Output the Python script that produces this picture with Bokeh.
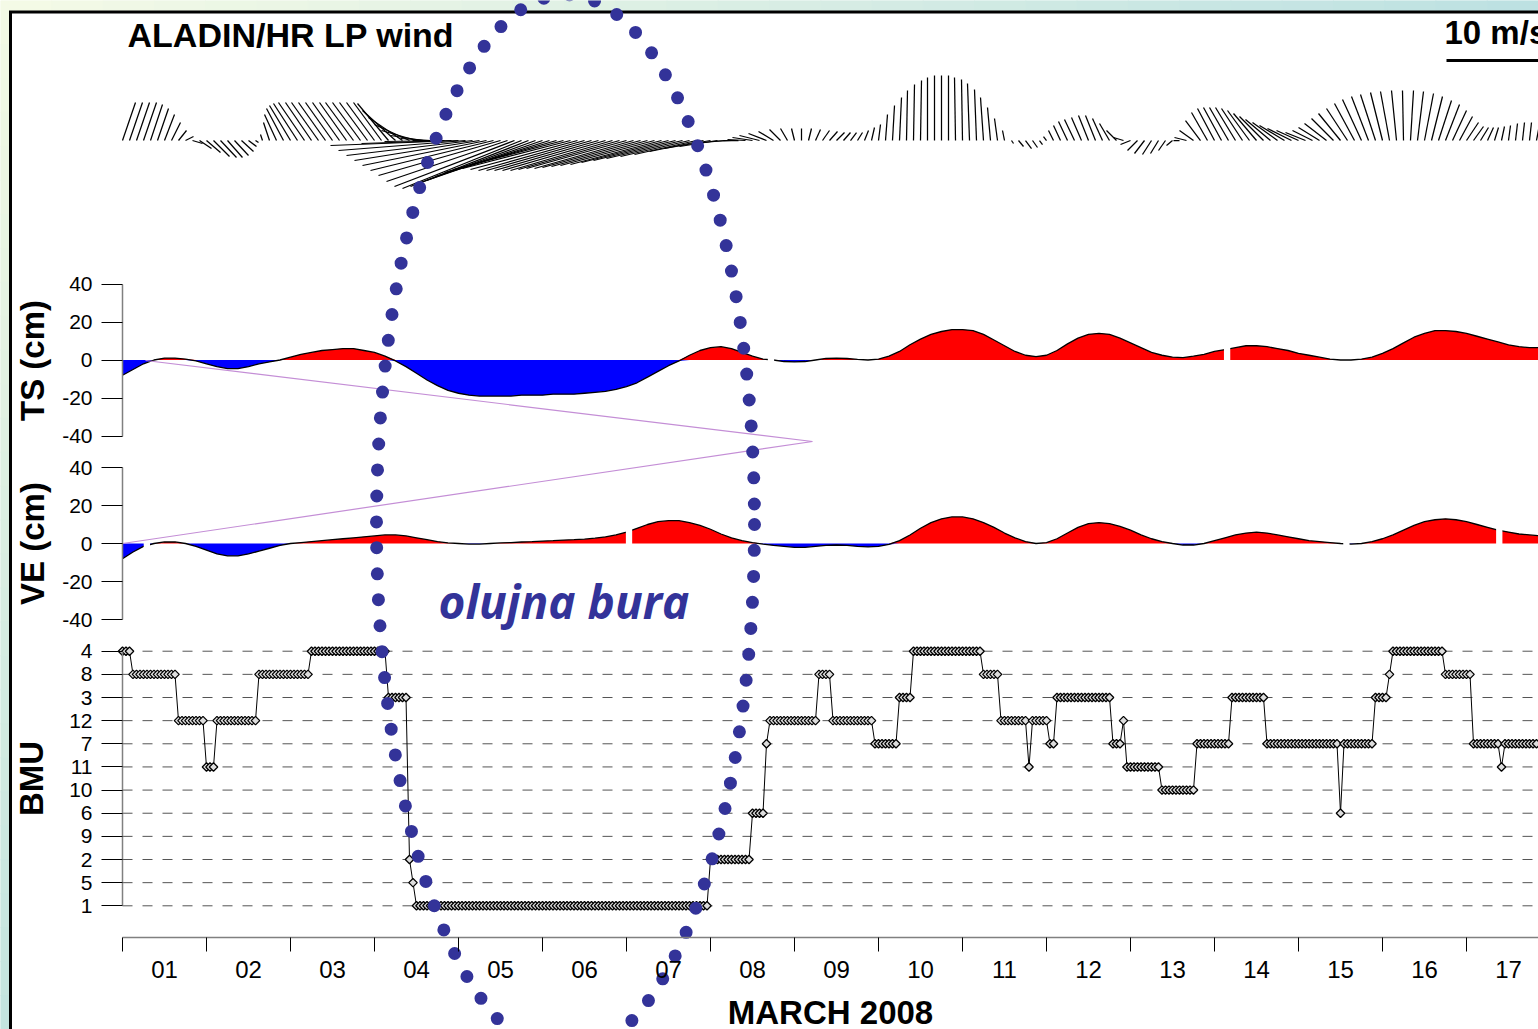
import numpy as np
from bokeh.plotting import figure
from bokeh.models import Range1d, LinearAxis, FixedTicker, Label
from bokeh.embed import file_html
from bokeh.resources import INLINE

# ---------------- data ----------------
day_labels = ["01", "02", "03", "04", "05", "06", "07", "08", "09",
              "10", "11", "12", "13", "14", "15", "16", "17"]
axis_title_x = "MARCH 2008"
cm_ticks = [-40, -20, 0, 20, 40]

# BMU categories, listed from top of axis to bottom
bmu_levels = ["4", "8", "3", "12", "7", "11", "10", "6", "9", "2", "5", "1"]
# hourly BMU series from 1 March 00 h, as (class, number of hours)
bmu_runs = [("4", 3), ("8", 13), ("12", 8), ("11", 3), ("12", 12), ("8", 15),
            ("4", 22), ("3", 6), ("2", 1), ("5", 1), ("1", 84), ("2", 12),
            ("6", 4), ("7", 1), ("12", 14), ("8", 4), ("12", 12), ("7", 7),
            ("3", 4), ("4", 20), ("8", 5), ("12", 8), ("11", 1), ("12", 5),
            ("7", 2), ("3", 16), ("7", 3), ("12", 1), ("11", 10), ("10", 10),
            ("7", 10), ("3", 10), ("7", 21), ("6", 1), ("7", 9), ("3", 4),
            ("8", 1), ("4", 15), ("8", 8), ("7", 8), ("11", 1), ("7", 10)]

# TS sea level (cm), every 3 h
ts_cm = [-8, -5, -2, 0, 1, 1, 0.5, -0.5,
         -2, -3.5, -4.5, -4.5, -3.5, -2, -1, 0,
         1.5, 3, 4, 5, 5.5, 6, 6, 5,
         4, 2, -0.5, -3.5, -7, -10.5, -13.5, -16,
         -17.5, -18.5, -19, -19, -19, -19, -18.5, -18.5,
         -18.5, -18, -18, -18, -17.5, -17, -16.5, -15.5,
         -14, -12, -9, -6, -3, -0.5, 2.5, 5,
         6.5, 7, 6, 4, 2, 0.5, 0, -0.8,
         -1, -0.8, 0, 0.8, 1, 0.8, 0.3, 0,
         0.5, 2, 4.5, 8, 11, 13.5, 15, 16,
         16, 15.5, 13.5, 10.5, 7.5, 4.5, 2.5, 1.8,
         2.5, 5, 8.5, 11.5, 13.5, 14, 13.5, 11.5,
         9, 6.5, 4, 2.5, 1.5, 1.3, 2, 3,
         4.5, 5.5, 6.5, 7.5, 7.5, 7, 6, 5,
         3.5, 2.5, 1.5, 0.5, 0, 0, 0.5, 1.5,
         3.5, 6, 9, 12, 14, 15.5, 15.5, 15,
         14, 12.5, 11, 9.5, 8, 7, 6.5, 6.5]
ts_gaps = [7.72, 13.15]  # days with missing TS data

# VE sea level (cm), every 3 h
ve_cm = [-8, -4.5, -1.5, 0, 0.8, 0.8, 0, -1.5,
         -3.5, -5.5, -6.5, -6.5, -5.5, -4, -2.5, -1,
         0, 0.5, 1, 1.5, 2, 2.5, 3, 3.5,
         4, 4.5, 4.5, 4, 3, 2, 1, 0.3,
         0, -0.3, -0.3, 0, 0.3, 0.5, 0.8, 1,
         1.3, 1.5, 1.8, 2, 2.3, 2.8, 3.5, 4.5,
         6, 8, 10, 11.5, 12, 12, 11, 9.5,
         7.5, 5, 3, 1.5, 0.5, -0.3, -1, -1.5,
         -2, -2, -1.5, -1, -0.8, -1, -1.5, -1.8,
         -1.5, -0.5, 1.5, 4.5, 8, 11, 13, 14,
         14, 13, 11, 8.5, 5.5, 3, 1, 0,
         0.5, 2.5, 5.5, 8.5, 10.5, 11, 10.5, 9,
         7, 4.5, 2.5, 1, 0, -0.8, -0.8, 0,
         1.5, 3, 4.5, 5.5, 6, 5.5, 4.5, 3.5,
         2.5, 1.5, 1, 0.5, 0, -0.3, 0, 1,
         2.5, 4.5, 7, 9.5, 11.5, 12.5, 13, 12.5,
         11.5, 10, 8.5, 7, 6, 5, 4.5, 4]
ve_gaps = [0.29, 6.03, 14.57, 16.39]

# ALADIN/HR low-pass wind components (m/s), every 2 h
wind_u = [1.3, 1.3, 1.3, 1.3, 1.2, 1.1, 1.0, 0.9, 0.8, 0.8,
          1.0, 1.2, 1.4, 1.6, 1.6, 1.5, 1.4, 1.2, 0.8, 0.3,
          -0.2, -0.6, -1.2, -1.7, -2.1, -2.4, -2.6, -2.6, -2.7, -2.7,
          -2.7, -2.7, -2.7, -2.8, -2.8, -2.8, -2.8, -2.8, -3.1, -3.3,
          -3.4, -3.5, -3.5, -3.3, -3.0, -2.5, -6.0, -9.0, -12.8, -12.7,
          -12.6, -12.5, -12.4, -12.3, -12.2, -12.1, -12.0, -11.9, -11.8, -11.7,
          -11.6, -11.4, -11.2, -11.0, -10.8, -10.7, -10.6, -10.5, -10.4, -10.3,
          -10.2, -10.1, -10.0, -9.9, -9.8, -9.6, -9.4, -9.1, -8.7, -8.2,
          -7.6, -6.9, -6.2, -5.4, -4.6, -3.8, -3.0, -2.1, -1.5, -1.8,
          -2.0, -2.0, -1.8, -1.5, -1.1, -0.7, -0.3, 0.0, 0.3, 0.5,
          0.7, 0.8, 0.8, 0.7, 0.6, 0.5, 0.4, 0.3, 0.2, 0.2,
          0.2, 0.2, 0.1, 0.1, 0.1, 0.0, 0.0, 0.0, 0.0, -0.1,
          -0.1, -0.2, -0.2, -0.3, -0.3, -0.3, -0.2, 0.2, 0.5, 0.6,
          0.5, 0.3, -0.3, -0.5, -0.7, -0.9, -1.0, -1.0, -1.0, -1.0,
          -1.0, -1.0, -1.0, -1.0, -1.0, -1.0, -1.0, -0.9, -0.8, -0.7,
          -0.6, -0.6, -1.2, -1.4, -1.5, -1.6, -1.7, -1.8, -1.9, -2.0,
          -2.1, -2.2, -2.3, -2.4, -2.5, -2.5, -2.5, -2.4, -2.2, -2.0,
          -2.0, -2.1, -2.2, -2.2, -2.2, -2.1, -2.0, -1.9, -1.7, -1.5,
          -1.2, -0.9, -0.5, -0.1, 0.3, 0.6, 0.9, 1.1, 1.3, 1.4,
          1.4, 1.3, 1.2, 1.0, 0.8, 0.6, 0.4, 0.3, 0.2, 0.2,
          0.2, 0.2, 0.3]
wind_v = [3.8, 3.8, 3.8, 3.8, 3.6, 3.2, 2.6, 1.8, 1.0, 0.4,
          -0.3, -0.8, -1.2, -1.6, -1.7, -1.7, -1.5, -1.1, -0.6, -0.2,
          0.6, 1.8, 2.6, 3.2, 3.5, 3.7, 3.8, 3.8, 3.8, 3.8,
          3.8, 3.8, 3.8, 3.8, 3.8, 3.8, 3.8, 3.8, 3.7, 3.0,
          2.3, 1.6, 1.0, 0.5, 0.2, 0.0, -0.1, -0.3, -0.5, -1.0,
          -1.5, -2.0, -2.5, -3.0, -3.5, -4.1, -4.6, -4.8, -4.6, -4.3,
          -4.0, -3.6, -3.2, -2.9, -2.8, -2.9, -3.0, -3.0, -3.0, -3.0,
          -3.0, -2.9, -2.8, -2.8, -2.7, -2.6, -2.5, -2.4, -2.2, -2.0,
          -1.8, -1.6, -1.4, -1.1, -0.8, -0.6, -0.3, -0.1, 0.0, 0.1,
          0.3, 0.5, 0.7, 0.9, 1.1, 1.2, 1.2, 1.2, 1.2, 1.1,
          1.0, 0.9, 0.8, 0.8, 0.8, 0.8, 1.0, 1.3, 1.6, 2.6,
          3.5, 4.3, 5.0, 5.6, 6.0, 6.3, 6.5, 6.5, 6.5, 6.3,
          6.1, 5.7, 5.1, 4.3, 3.3, 2.2, 1.0, -0.3, -0.6, -0.8,
          -0.7, -0.4, 0.4, 1.0, 1.5, 1.9, 2.1, 2.3, 2.5, 2.5,
          2.2, 1.7, 1.0, 0.3, -0.4, -1.0, -1.3, -1.4, -1.3, -1.0,
          -0.5, 0.0, 0.3, 1.0, 2.0, 2.8, 3.2, 3.3, 3.3, 3.3,
          3.2, 3.0, 2.7, 2.4, 2.1, 1.8, 1.5, 1.2, 1.0, 0.8,
          1.0, 1.3, 1.7, 2.2, 2.7, 3.2, 3.7, 4.1, 4.4, 4.6,
          4.8, 4.9, 5.0, 5.0, 5.0, 4.9, 4.7, 4.4, 4.0, 3.6,
          3.0, 2.4, 1.8, 1.4, 1.3, 1.3, 1.3, 1.4, 1.5, 1.7,
          1.8, 1.8, 1.6]
wind_scale_ms = 10  # length of the reference vector

# ---------------- layout constants ----------------
W, H = 1538, 1029
X0_PX, PX_PER_DAY = 122, 84


def px2day(px):
    return (px - X0_PX) / PX_PER_DAY


X_END = px2day(W)


def lin_range(zero_px, px_per_unit):
    return Range1d(-(H - zero_px) / px_per_unit, zero_px / px_per_unit)


WIND_PX_PER_MS = 10
p = figure(width=W, height=H, x_range=Range1d(px2day(0), X_END),
           y_range=Range1d(H, 0), output_backend="svg", toolbar_location=None,
           x_axis_location=None, y_axis_location=None, title=None,
           min_border=0, outline_line_color=None,
           background_fill_color="white", border_fill_color="white")
p.grid.visible = False
p.extra_y_ranges = {
    "wind": lin_range(140, WIND_PX_PER_MS),
    "ts": lin_range(359.5, 1.9),
    "ve": lin_range(543, 1.9),
    "bmu": lin_range(928.45, 23.145),
}


# ---------------- background frame ----------------
def mix(c1, c2, f):
    a = [int(c1[i:i + 2], 16) for i in (1, 3, 5)]
    b = [int(c2[i:i + 2], 16) for i in (1, 3, 5)]
    return "#%02x%02x%02x" % tuple(int(round(a[k] + (b[k] - a[k]) * f)) for k in range(3))


n = 30
xs = np.linspace(0, W, n + 1)
p.quad(left=[px2day(v) for v in xs[:-1]], right=[px2day(v) for v in xs[1:]],
       top=[0] * n, bottom=[10] * n,
       color=[mix("#f4fae6", "#bde1e2", i / (n - 1)) for i in range(n)])
ys = np.linspace(10, H, n + 1)
p.quad(left=[px2day(0)] * n, right=[px2day(8.5)] * n, top=list(ys[:-1]),
       bottom=list(ys[1:]),
       color=[mix("#f2f9e4", "#c4e4df", i / (n - 1)) for i in range(n)])
p.line([px2day(10), px2day(10)], [H, 11.5], line_color="black", line_width=3)
p.line([px2day(8.5), px2day(W)], [11.5, 11.5], line_color="black", line_width=3)

# ---------------- wind sticks ----------------
t2 = np.arange(len(wind_u)) / 12.0
u = np.array(wind_u)
v = np.array(wind_v)
k = WIND_PX_PER_MS / PX_PER_DAY  # days per m/s
p.segment(x0=t2, y0=0, x1=t2 + u * k, y1=v, y_range_name="wind",
          line_color="black", line_width=1.25)
bar_x = px2day(1446)
p.segment(x0=[bar_x], y0=[8], x1=[bar_x + wind_scale_ms * k], y1=[8],
          y_range_name="wind", line_color="black", line_width=3)

# ---------------- TS / VE ----------------
for name, series, gaps in (("ts", ts_cm, ts_gaps), ("ve", ve_cm, ve_gaps)):
    t3 = np.arange(len(series)) / 8.0
    s = np.array(series, dtype=float)
    p.varea(x=t3, y1=0, y2=np.maximum(s, 0), fill_color="#ff0000", y_range_name=name)
    p.varea(x=t3, y1=np.minimum(s, 0), y2=0, fill_color="#0000ff", y_range_name=name)
    p.line(t3, s, line_color="black", line_width=1.3, y_range_name=name)
    p.vbar(x=gaps, width=0.075, top=25, bottom=-25, fill_color="white",
           line_color=None, y_range_name=name)

# zoom-connector lines
p.line([px2day(145), px2day(812), px2day(122)], [360, 441, 543],
       line_color="#c48ed6", line_width=1.2)

# ---------------- BMU ----------------
pos_of = {lab: len(bmu_levels) - i for i, lab in enumerate(bmu_levels)}
bmu_series = []
for lab, cnt in bmu_runs:
    bmu_series += [pos_of[lab]] * cnt
th = np.arange(len(bmu_series)) / 24.0
levels_pos = [pos_of[l] for l in bmu_levels]
p.segment(x0=[0] * len(levels_pos), y0=levels_pos, x1=[X_END] * len(levels_pos),
          y1=levels_pos, y_range_name="bmu", line_color="#555555", line_width=1,
          line_dash="10 10")
p.line(th, bmu_series, line_color="black", line_width=1, y_range_name="bmu")
p.scatter(th, bmu_series, marker="square", angle=np.pi / 4, size=6,
          fill_color="#dddddd", line_color="black", line_width=1.3, y_range_name="bmu")


# ---------------- axes ----------------
def style_axis(ax):
    ax.axis_line_color = "#808080"
    ax.axis_line_width = 1.5
    ax.major_tick_line_color = "black"
    ax.minor_tick_line_color = None
    ax.major_tick_out = 21
    ax.major_tick_in = 0
    ax.major_label_text_font = "Liberation Sans"
    ax.major_label_text_font_size = "21px"
    ax.major_label_text_color = "black"
    ax.major_label_standoff = 9
    ax.axis_label_text_font = "Liberation Sans"
    ax.axis_label_text_font_style = "bold"
    ax.axis_label_text_font_size = "33px"
    ax.axis_label_text_color = "black"


for name, lab in (("ts", "TS (cm)"), ("ve", "VE (cm)")):
    ax = LinearAxis(y_range_name=name, fixed_location=0, bounds=(-40, 40),
                    ticker=FixedTicker(ticks=cm_ticks), axis_label=lab,
                    major_label_overrides={t: str(t) for t in cm_ticks})
    style_axis(ax)
    ax.axis_label_standoff = 8
    p.add_layout(ax, "left")

bax = LinearAxis(y_range_name="bmu", fixed_location=0, bounds=(1, len(bmu_levels)),
                 ticker=FixedTicker(ticks=levels_pos),
                 major_label_overrides={pos_of[l]: l for l in bmu_levels},
                 axis_label="BMU")
style_axis(bax)
bax.axis_label_standoff = 16
p.add_layout(bax, "left")

xax = LinearAxis(fixed_location=937, bounds=(0, X_END),
                 ticker=FixedTicker(ticks=list(range(len(day_labels)))),
                 major_label_overrides={i: "" for i in range(len(day_labels))})
style_axis(xax)
xax.major_tick_out = 14
p.add_layout(xax, "below")

xlab = LinearAxis(fixed_location=937, bounds=(0, X_END),
                  ticker=FixedTicker(ticks=[i + 0.5 for i in range(len(day_labels))]),
                  major_label_overrides={i + 0.5: d for i, d in enumerate(day_labels)},
                  axis_label=axis_title_x)
style_axis(xlab)
xlab.axis_line_color = None
xlab.major_tick_line_color = None
xlab.major_tick_out = 0
xlab.major_label_text_font_size = "24px"
xlab.major_label_standoff = 23
xlab.axis_label_standoff = 13
p.add_layout(xlab, "below")

# ---------------- storm ellipse ----------------
p.ellipse(x=[px2day(565)], y=[524], width=378, height=1060, width_units="screen",
          height_units="screen", fill_color=None, line_color="#333399",
          line_width=13, line_dash="0 26", line_cap="round")

# ---------------- texts ----------------
p.add_layout(Label(x=px2day(127), y=34, text="ALADIN/HR LP wind",
                   text_font="Liberation Sans", text_font_style="bold",
                   text_font_size="34px", text_baseline="alphabetic",
                   text_color="black"))
p.add_layout(Label(x=px2day(1444), y=32, text="10 m/s",
                   text_font="Liberation Sans", text_font_style="bold",
                   text_font_size="33px", text_baseline="alphabetic",
                   text_color="black"))
p.add_layout(Label(x=px2day(438), y=600, text="olujna bura",
                   text_font="Open Sans", text_font_style="bold italic",
                   text_font_size="46px", text_baseline="alphabetic",
                   text_color="#333399"))

open("out.html", "w").write(file_html(p, INLINE))
